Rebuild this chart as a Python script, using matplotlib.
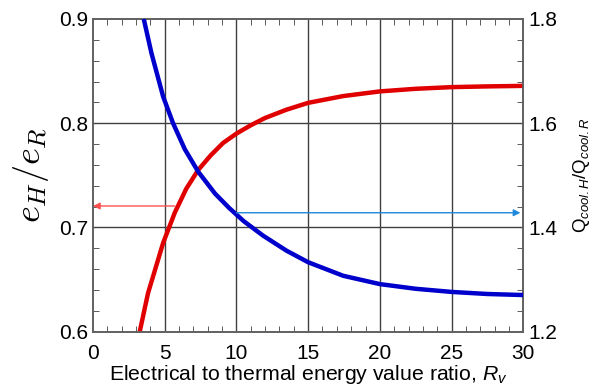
import matplotlib
matplotlib.use("Agg")
import matplotlib.pyplot as plt
import numpy as np
from matplotlib.ticker import MultipleLocator

plt.rcParams['font.family'] = ['Liberation Sans', 'DejaVu Sans']
plt.rcParams['mathtext.fontset'] = 'custom'
plt.rcParams['mathtext.rm'] = 'Liberation Sans'
plt.rcParams['mathtext.it'] = 'Liberation Sans:italic'

# Data
rv_red = [3.26, 3.84, 4.89, 5.70, 6.5, 7.33, 8.2, 9.07, 10.0, 11.0, 12.0, 13.5, 15.0, 17.44, 20.0, 22.5, 25.0, 27.5, 30.0]
eh_er = [0.600, 0.637, 0.685, 0.714, 0.737, 0.755, 0.769, 0.781, 0.790, 0.798, 0.805, 0.813, 0.8195, 0.826, 0.8305, 0.833, 0.8346, 0.8353, 0.8358]

rv_blue = [3.54, 4.07, 4.89, 5.58, 6.4, 7.33, 8.5, 9.5, 10.5, 11.86, 13.5, 15.0, 17.44, 20.0, 22.5, 25.0, 27.5, 30.0]
qcool = [1.800, 1.735, 1.651, 1.600, 1.550, 1.507, 1.465, 1.437, 1.412, 1.384, 1.355, 1.333, 1.307, 1.291, 1.282, 1.276, 1.272, 1.270]

xticks = [0, 5, 10, 15, 20, 25, 30]
left_ticks = [0.6, 0.7, 0.8, 0.9]
right_ticks = [1.2, 1.4, 1.6, 1.8]

fig = plt.figure(figsize=(5.95, 3.87), dpi=100)
ax = fig.add_axes([93/595, 1-331.5/387, (523.3-93)/595, (331.5-19)/387])
ax2 = ax.twinx()

for x in [5, 10, 15, 20, 25]:
    ax.axvline(x, color='#404040', lw=1.0, zorder=1)
for y in [0.7, 0.8]:
    ax.axhline(y, color='#404040', lw=1.0, zorder=1)

ax.plot(rv_red, eh_er, color='#e00000', lw=3.2, zorder=3, solid_capstyle='butt')
ax2.plot(rv_blue, qcool, color='#0000cc', lw=3.2, zorder=3, solid_capstyle='butt')

ax.annotate('', xy=(0.0, 0.7205), xytext=(5.7, 0.7205),
            arrowprops=dict(arrowstyle='-|>', color='#ff5050', lw=1.0, mutation_scale=10,
                            shrinkA=0, shrinkB=0), zorder=4)
ax2.annotate('', xy=(29.8, 1.428), xytext=(10.0, 1.428),
             arrowprops=dict(arrowstyle='-|>', color='#1f88d8', lw=1.0, mutation_scale=10,
                             shrinkA=0, shrinkB=0), zorder=4)

ax.set_xlim(0, 30)
ax.set_ylim(0.6, 0.9)
ax2.set_ylim(1.2, 1.8)
ax.set_xticks(xticks)
ax.set_yticks(left_ticks)
ax2.set_yticks(right_ticks)
ax.set_yticklabels([f'{v:.1f}' for v in left_ticks])
ax2.set_yticklabels([f'{v:.1f}' for v in right_ticks])
ax.xaxis.set_minor_locator(MultipleLocator(1))
ax.yaxis.set_minor_locator(MultipleLocator(0.02))
ax2.yaxis.set_minor_locator(MultipleLocator(0.04))

ax.tick_params(axis='x', which='both', direction='in', top=True, labelsize=15, pad=9, color='#404040')
ax.tick_params(axis='x', which='major', length=0)
ax.tick_params(axis='x', which='minor', length=4)
ax.tick_params(axis='y', which='both', direction='in', labelsize=15, color='#404040')
ax.tick_params(axis='y', which='major', length=0)
ax.tick_params(axis='y', which='minor', length=4)
ax2.tick_params(axis='y', which='both', direction='in', labelsize=15, color='#404040')
ax2.tick_params(axis='y', which='major', length=0)
ax2.tick_params(axis='y', which='minor', length=4)

for a in (ax, ax2):
    for s in a.spines.values():
        s.set_color('#606060')
        s.set_linewidth(1.2)

ax.set_xlabel('Electrical to thermal energy value ratio, $R_v$', fontsize=15.3, labelpad=0)
ax.set_ylabel(r'$e_H/e_R$', fontsize=26, math_fontfamily='cm', labelpad=6)
ax2.set_ylabel(r'$\mathrm{Q}_{cool.H}/\mathrm{Q}_{cool.R}$', fontsize=13.5, labelpad=10)

fig.savefig('out.png', dpi=100)
